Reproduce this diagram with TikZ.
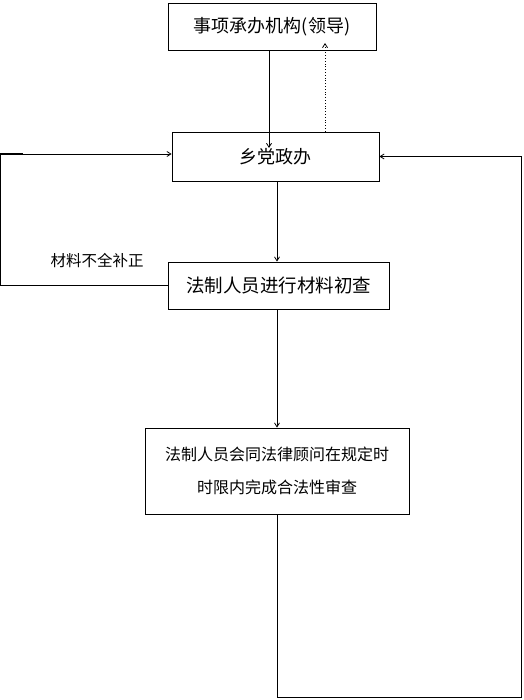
\documentclass[tikz,border=0pt]{standalone}
\usepackage{fontspec}
\setmainfont{Noto Sans CJK SC}
\usetikzlibrary{arrows.meta}
\begin{document}
\begin{tikzpicture}
  [x=1pt,y=-1pt,line width=0.8pt,
    kasten/.style={draw,inner sep=0pt,
    font=\fontsize{18}{22}\selectfont},
    pfeil/.style={-{Straight Barb[length=4pt,width=5pt]}}]
  \useasboundingbox (0,0) rectangle (523,700);
  \node[kasten,minimum width=208pt,minimum height=47pt] (jigou) at (272,26.5) {事项承办机构(领导)};
  \node[kasten,minimum width=207pt,minimum height=49pt] (xiang) at (275.5,156.5) {乡党政办};
  \node[kasten,minimum width=221pt,minimum height=47pt,font=\fontsize{18.5}{22}\selectfont] (chucha) at (278.5,285.5) {法制人员进行材料初查};
  \node[kasten,minimum width=264pt,minimum height=86pt,align=center,font=\fontsize{16}{33}\selectfont] (shencha) at (277,471)
    {法制人员会同法律顾问在规定时\\时限内完成合法性审查};
  \node[font=\fontsize{15.5}{18}\selectfont] (buzheng) at (97,261) {材料不全补正};
  % Verbindungen
  \coordinate (ein) at (269,148);
  \coordinate (aus) at (325,43);
  \coordinate (links) at (0,154);
  \coordinate (unten) at (521,697);
  \draw[pfeil] (jigou.south -| ein) -- (ein);
  \draw[pfeil,dotted] (xiang.north -| aus) -- (aus);
  \draw[pfeil] (xiang.south -| shencha.north) -- (chucha.north -| shencha.north);
  \draw[pfeil] (chucha.south -| shencha.north) -- (shencha.north);
  \draw[pfeil] (chucha.west) -| (links) -- (xiang.west |- links);
  \draw[line width=1.4pt] (links) -- ++(23,0);
  \draw[pfeil] (shencha.south) |- (unten) |- (xiang.east);
\end{tikzpicture}
\end{document}
